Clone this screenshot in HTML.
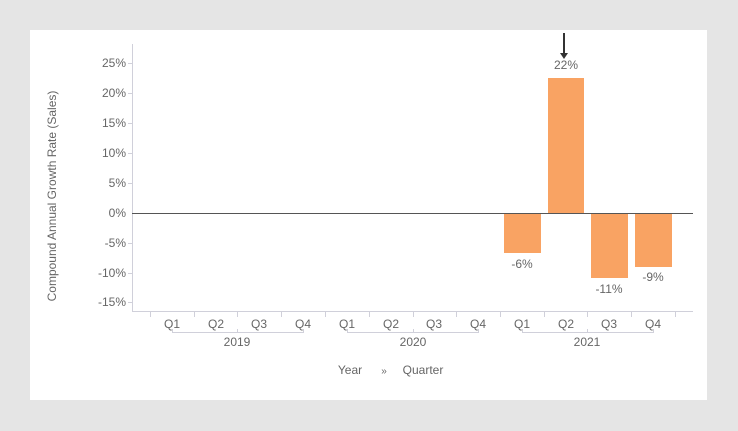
<!DOCTYPE html>
<html><head><style>
body{margin:0;background:#e5e5e5;}
svg{display:block;font-family:"Liberation Sans",Arial,sans-serif;}
</style></head><body>
<svg width="738" height="431" viewBox="0 0 738 431">
<rect x="0" y="0" width="738" height="431" fill="#e5e5e5"/>
<rect x="30" y="30" width="677" height="370" fill="#fff"/>
<g fill="#666" font-size="12" text-anchor="end">
<text x="126" y="67">25%</text>
<text x="126" y="97">20%</text>
<text x="126" y="127">15%</text>
<text x="126" y="157">10%</text>
<text x="126" y="187">5%</text>
<text x="126" y="217">0%</text>
<text x="126" y="247">-5%</text>
<text x="126" y="277">-10%</text>
<text x="126" y="306">-15%</text>
</g>
<g stroke="#d0d0da" stroke-width="1">
<line x1="132.5" y1="44" x2="132.5" y2="311"/>
<line x1="132" y1="311.5" x2="693" y2="311.5"/>
<line x1="128" y1="63.5" x2="132" y2="63.5"/><line x1="128" y1="93.5" x2="132" y2="93.5"/>
<line x1="128" y1="123.5" x2="132" y2="123.5"/><line x1="128" y1="153.5" x2="132" y2="153.5"/>
<line x1="128" y1="183.5" x2="132" y2="183.5"/><line x1="128" y1="243.5" x2="132" y2="243.5"/>
<line x1="128" y1="273.5" x2="132" y2="273.5"/><line x1="128" y1="302.5" x2="132" y2="302.5"/>
<line x1="150.5" y1="311" x2="150.5" y2="317"/><line x1="194.5" y1="311" x2="194.5" y2="317"/>
<line x1="237.5" y1="311" x2="237.5" y2="317"/><line x1="281.5" y1="311" x2="281.5" y2="317"/>
<line x1="325.5" y1="311" x2="325.5" y2="317"/><line x1="369.5" y1="311" x2="369.5" y2="317"/>
<line x1="413.5" y1="311" x2="413.5" y2="317"/><line x1="456.5" y1="311" x2="456.5" y2="317"/>
<line x1="500.5" y1="311" x2="500.5" y2="317"/><line x1="544.5" y1="311" x2="544.5" y2="317"/>
<line x1="587.5" y1="311" x2="587.5" y2="317"/><line x1="631.5" y1="311" x2="631.5" y2="317"/>
<line x1="675.5" y1="311" x2="675.5" y2="317"/>
<polyline fill="none" points="172.5,329 172.5,332.5 303.5,332.5 303.5,329"/><line x1="237.5" y1="329" x2="237.5" y2="332"/>
<polyline fill="none" points="347.5,329 347.5,332.5 478.5,332.5 478.5,329"/><line x1="413.5" y1="329" x2="413.5" y2="332"/>
<polyline fill="none" points="522.5,329 522.5,332.5 653.5,332.5 653.5,329"/><line x1="587.5" y1="329" x2="587.5" y2="332"/>
</g>
<g fill="#666" font-size="12" text-anchor="middle">
<text x="172" y="328">Q1</text><text x="216" y="328">Q2</text><text x="259" y="328">Q3</text><text x="303" y="328">Q4</text>
<text x="347" y="328">Q1</text><text x="391" y="328">Q2</text><text x="434" y="328">Q3</text><text x="478" y="328">Q4</text>
<text x="522" y="328">Q1</text><text x="566" y="328">Q2</text><text x="609" y="328">Q3</text><text x="653" y="328">Q4</text>
<text x="237" y="346">2019</text><text x="413" y="346">2020</text><text x="587" y="346">2021</text>
<text x="350" y="374">Year</text><text x="384" y="374" font-size="10">»</text><text x="423" y="374">Quarter</text>
<text x="566" y="69">22%</text><text x="522" y="268">-6%</text><text x="609" y="293">-11%</text><text x="653" y="281">-9%</text>
<text transform="translate(56 196) rotate(-90)">Compound Annual Growth Rate (Sales)</text>
</g>
<g fill="#f9a363">
<rect x="504" y="213" width="37" height="40"/>
<rect x="548" y="78" width="36" height="135"/>
<rect x="591" y="213" width="37" height="65"/>
<rect x="635" y="213" width="37" height="54"/>
</g>
<line x1="132" y1="213.5" x2="693" y2="213.5" stroke="#555" stroke-width="1"/>
<line x1="564" y1="33" x2="564" y2="54" stroke="#333" stroke-width="2"/>
<polygon points="560,53 568,53 564,59" fill="#333"/>
</svg>
</body></html>
